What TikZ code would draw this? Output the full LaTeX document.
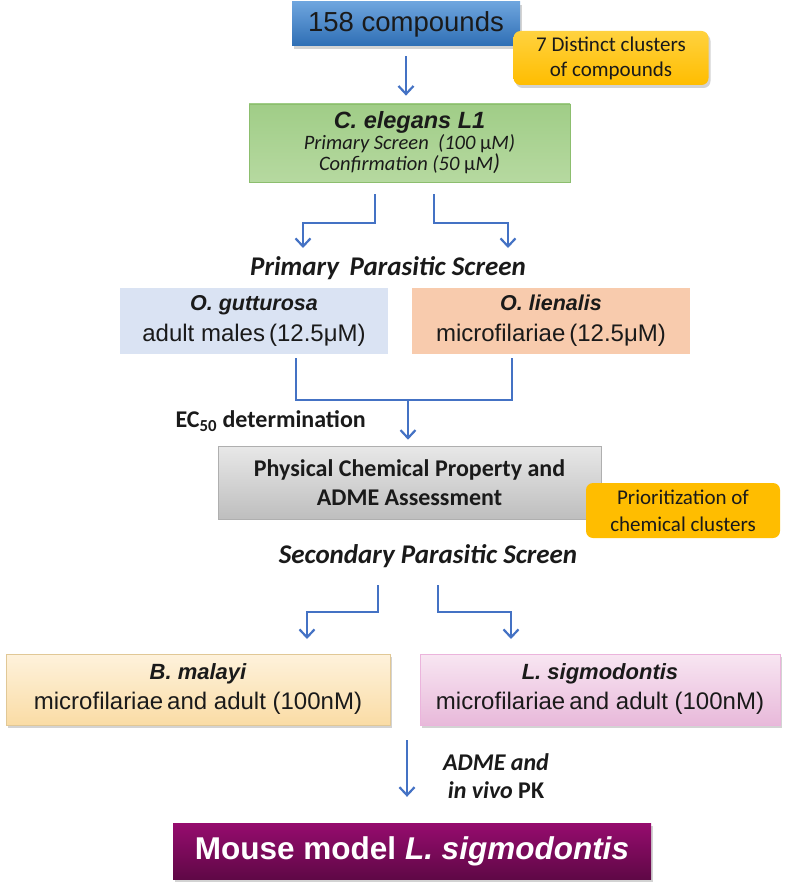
\documentclass[tikz,border=0pt]{standalone}
\usepackage{fontspec}
\setmainfont{Liberation Sans}
\newfontfamily\cb{Carlito}
\usetikzlibrary{arrows.meta,shadows}
\definecolor{arrblue}{HTML}{4472C4}
\definecolor{txt}{HTML}{1A1A1A}
\definecolor{ytop}{HTML}{FFD23F}
\definecolor{ybot}{HTML}{FFBD00}
\definecolor{btop}{RGB}{110,165,222}
\definecolor{bbot}{RGB}{46,110,180}
\definecolor{gtop}{RGB}{160,205,135}
\definecolor{gbot}{RGB}{182,217,160}
\definecolor{gdraw}{RGB}{140,190,110}
\definecolor{lblue}{RGB}{218,227,243}
\definecolor{peach}{RGB}{248,203,173}
\definecolor{grtop}{RGB}{232,232,232}
\definecolor{grbot}{RGB}{190,190,190}
\definecolor{grdraw}{RGB}{175,175,175}
\definecolor{bmtop}{RGB}{254,242,220}
\definecolor{bmbot}{RGB}{250,220,165}
\definecolor{bmdraw}{RGB}{225,200,150}
\definecolor{lstop}{RGB}{248,230,242}
\definecolor{lsbot}{RGB}{232,185,218}
\definecolor{lsdraw}{RGB}{235,180,220}
\definecolor{motop}{RGB}{150,12,110}
\definecolor{mobot}{RGB}{95,8,70}
\tikzset{
  arr/.style={draw=arrblue,line width=2.2pt,-{Straight Barb[length=8pt,width=15pt,line width=2.2pt]}},
  ln/.style={draw=arrblue,line width=2.2pt},
  box/.style={draw=none,inner sep=0pt,align=center,text=txt},
  shad/.style={drop shadow={opacity=0.35,shadow xshift=2pt,shadow yshift=-3pt}}
}
\begin{document}
\begin{tikzpicture}[x=1pt,y=-1pt]
\useasboundingbox (0,0) rectangle (787,888);

% 158 compounds
\node[box,minimum width=228pt,minimum height=44pt,top color=btop,bottom color=bbot,shad,
  font=\fontsize{27.5}{30}\selectfont] (n158) at (406,24) {158 compounds};
% 7 clusters
\node[box,minimum width=195pt,minimum height=54pt,rounded corners=7pt,top color=ytop,bottom color=ybot,shad,
  font=\cb\fontsize{21}{25}\selectfont] (clu) at (611,58) {7 Distinct clusters\\of compounds};

% C. elegans
\node[box,minimum width=321pt,minimum height=78pt,top color=gtop,bottom color=gbot,draw=gdraw,line width=0.8pt,
  font=\cb\itshape\fontsize{20.5}{16}\selectfont] (cel) at (409.5,143)
  {{\rmfamily\fontsize{23.5}{24}\selectfont\bfseries\itshape C. elegans L1}\\[0pt]
   Primary Screen\ \ (100 \textup{μ}M)\\[0pt]
   Confirmation (50 \textup{μ}M{\fontsize{23}{16}\selectfont)}};

\draw[arr] ([yshift=-10pt]n158.south) -- ([yshift=8pt]n158.south |- cel.north);

\coordinate (l1) at (375,194);
\coordinate (l2) at (303,248);
\coordinate (r1) at (434,194);
\coordinate (r2) at (508,248);
\draw[arr] (l1) -- (375,223) -- (303,223) -- (l2);
\draw[arr] (r1) -- (434,223) -- (508,223) -- (r2);

\node[box,font=\cb\bfseries\itshape\fontsize{27}{28}\selectfont] (pps) at (388,268) {Primary\, Parasitic Screen};

% O. gutturosa / O. lienalis
\node[box,minimum width=268pt,minimum height=66pt,fill=lblue,font=\fontsize{24}{31}\selectfont] (og) at (254,321)
  {{\fontsize{21.5}{24}\selectfont\bfseries\itshape O. gutturosa}\\
   adult males\,(12.5μM)};
\node[box,minimum width=278pt,minimum height=66pt,fill=peach,font=\fontsize{24}{31}\selectfont] (ol) at (551,321)
  {{\fontsize{21.5}{24}\selectfont\bfseries\itshape O. lienalis}\\
   microfilariae\,(12.5μM)};

\coordinate (m1) at (296,358);
\coordinate (m2) at (512,358);
\coordinate (mm) at (408,400);
\draw[ln] (m1) -- (296,400) -- (512,400) -- (m2);

% gray box
\node[box,minimum width=383pt,minimum height=73pt,top color=grtop,bottom color=grbot,draw=grdraw,line width=0.6pt,
  font=\cb\bfseries\fontsize{24}{29}\selectfont] (pc) at (409.5,482.5)
  {Physical Chemical Property and\\ADME Assessment};
\draw[arr] (mm) -- ([yshift=6pt]mm |- pc.north);

\node[box,anchor=east,font=\cb\bfseries\fontsize{24}{26}\selectfont] (ec) at (366,421) {EC\textsubscript{50} determination};

\node[box,minimum width=194pt,minimum height=55pt,rounded corners=7pt,fill=ybot,
  font=\cb\fontsize{21}{27}\selectfont] (pri) at (683,510.5)
  {Prioritization of\\chemical clusters};

\node[box,font=\cb\bfseries\itshape\fontsize{27}{28}\selectfont] (sps) at (428,556) {Secondary Parasitic Screen};

\coordinate (s1) at (378,585);
\coordinate (s2) at (307,639);
\coordinate (t1) at (438,585);
\coordinate (t2) at (511,639);
\draw[arr] (s1) -- (378,612) -- (307,612) -- (s2);
\draw[arr] (t1) -- (438,612) -- (511,612) -- (t2);

% B. malayi / L. sigmodontis
\node[box,minimum width=384pt,minimum height=71pt,top color=bmtop,bottom color=bmbot,draw=bmdraw,line width=0.6pt,shad,
  font=\fontsize{24}{30}\selectfont] (bm) at (198,689.5)
  {{\fontsize{22}{24}\selectfont\bfseries\itshape B. malayi}\\
   microfilariae\,and adult (100nM)};
\node[box,minimum width=360pt,minimum height=71pt,top color=lstop,bottom color=lsbot,draw=lsdraw,line width=0.6pt,shad,
  font=\fontsize{24}{30}\selectfont] (ls) at (600,689.5)
  {{\fontsize{22}{24}\selectfont\bfseries\itshape L. sigmodontis}\\
   microfilariae\,and adult (100nM)};

% Mouse
\node[box,minimum width=478pt,minimum height=56pt,top color=motop,bottom color=mobot,text=white,shad,
  font=\fontsize{31.5}{33}\selectfont\bfseries] (mo) at (412,851)
  {Mouse model \textit{L. sigmodontis}};

\coordinate (b1) at (407,740);
\draw[arr] (b1) -- ([yshift=26pt]b1 |- mo.north);
\node[box,font=\cb\bfseries\fontsize{24}{28}\selectfont,align=center] (adm) at (496,776) {\itshape ADME and\\\itshape in vivo \upshape PK};
\end{tikzpicture}
\end{document}
